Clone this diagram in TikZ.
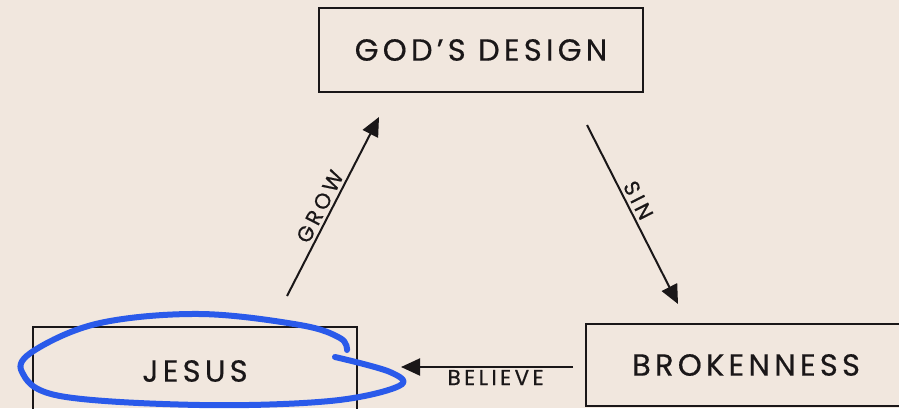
\documentclass[tikz,border=0pt]{standalone}
\usepackage{fontspec}
\setmainfont{Poppins}
\newfontfamily\spaced[LetterSpace=14,FakeBold=0.5]{Poppins}
\newfontfamily\spacedsmall[LetterSpace=16,FakeBold=0.5]{Poppins}
\usetikzlibrary{arrows.meta}
\definecolor{bg}{HTML}{F1E7DE}
\definecolor{ink}{HTML}{1A1718}
\definecolor{pen}{HTML}{2A5AEA}
\tikzset{
  box/.style={draw=ink, line width=2.4pt, rectangle, inner sep=0pt, text=ink,
    font=\spaced\fontsize{30.5}{31}\selectfont},
  conn/.style={draw=ink, line width=2pt, -{Triangle[length=19pt,width=17pt]}},
  lbl/.style={text=ink, font=\spacedsmall\fontsize{21.5}{22}\selectfont, inner sep=3pt}
}
\begin{document}
\begin{tikzpicture}[x=1pt,y=-1pt]
\fill[bg] (0,0) rectangle (899,408);
\useasboundingbox (0,0) rectangle (899,408);
\node[box, minimum width=324pt, minimum height=84pt] (god) at (481,50) {GOD’S DESIGN};
\node[box, minimum width=320pt, minimum height=82pt] (broken) at (746,365) {BROKENNESS};
\node[box, minimum width=324pt, minimum height=88pt] (jesus) at (195,371) {JESUS};
\coordinate (growS) at (287,296);
\coordinate (growE) at (379,117);
\coordinate (sinS) at (587,125);
\coordinate (sinE) at (678,304);
\coordinate (belS) at (573,367);
\coordinate (belE) at (401,367);
\draw[conn] (growS) -- node[lbl, sloped, above, pos=0.47] {GROW} (growE);
\draw[conn] (sinS) -- node[lbl, sloped, above, pos=0.45] {SIN} (sinE);
\draw[conn] (belS) -- node[lbl, below, pos=0.45, yshift=1pt] {BELIEVE} (belE);
\draw[pen, line width=6pt, line cap=round, line join=round]
  plot[smooth, tension=0.6] coordinates {(347,350) (340,338) (300,325) (200,314) (100,323) (35,350) (22,372) (60,396) (200,405) (330,401) (399,386) (390,372) (335,357)};
\end{tikzpicture}
\end{document}
